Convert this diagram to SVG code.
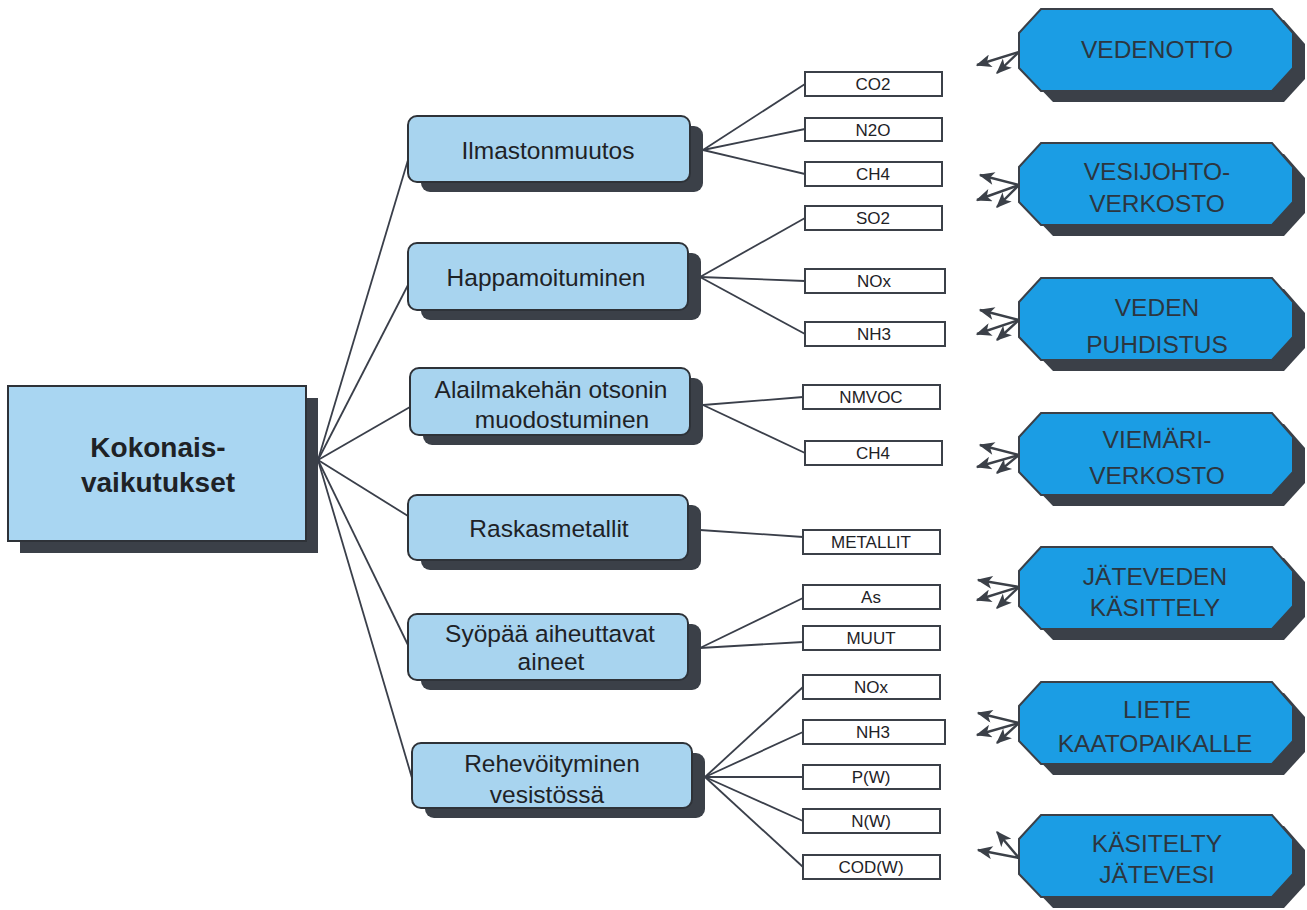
<svg xmlns="http://www.w3.org/2000/svg" width="1307" height="910" viewBox="0 0 1307 910">
<defs>
<style>
.bg{fill:#ffffff}
.shadow{fill:#3b4048}
.main{fill:#a9d6f2;stroke:#2e3238;stroke-width:2}
.cat{fill:#a8d4ef;stroke:#2e3238;stroke-width:2}
.oct{fill:#1b9de4;stroke:#3b4048;stroke-width:2}
.leaf{fill:#ffffff;stroke:#3b4048;stroke-width:2}
.t-main{font-family:"Liberation Sans",Arial,sans-serif;font-weight:bold;font-size:28px;fill:#1e2226;text-anchor:middle}
.t-cat{font-family:"Liberation Sans",Arial,sans-serif;font-size:24.5px;fill:#1e2226;text-anchor:middle}
.t-leaf{font-family:"Liberation Sans",Arial,sans-serif;font-size:17px;fill:#1e2226;text-anchor:middle}
.t-oct{font-family:"Liberation Sans",Arial,sans-serif;font-size:24.5px;fill:#2c3640;text-anchor:middle}
.conn line{stroke:#3a3f4a;stroke-width:1.8;fill:none}
.arr line{stroke:#3b4048;stroke-width:2.4;fill:none;marker-end:url(#ah)}
</style>
<marker id="ah" viewBox="0 0 12 10" refX="11" refY="5" markerWidth="17" markerHeight="13" markerUnits="userSpaceOnUse" orient="auto">
<path d="M0,0 L12,5 L0,10 L3,5 z" fill="#3b4048"/>
</marker>
</defs>
<rect class="bg" x="0" y="0" width="1307" height="910"/>

<g id="connectors" class="conn">
<line x1="318" y1="460" x2="408" y2="160"/>
<line x1="318" y1="460" x2="408" y2="285"/>
<line x1="318" y1="460" x2="410" y2="407"/>
<line x1="318" y1="460" x2="408" y2="516"/>
<line x1="318" y1="460" x2="408" y2="645"/>
<line x1="318" y1="460" x2="412" y2="778"/>

<line x1="703" y1="150" x2="805" y2="84"/>
<line x1="703" y1="150" x2="805" y2="129"/>
<line x1="703" y1="150" x2="805" y2="174"/>

<line x1="700" y1="277" x2="805" y2="218"/>
<line x1="700" y1="277" x2="805" y2="281"/>
<line x1="700" y1="277" x2="805" y2="334"/>

<line x1="703" y1="405" x2="803" y2="397"/>
<line x1="703" y1="405" x2="805" y2="453"/>

<line x1="700" y1="530" x2="803" y2="537"/>

<line x1="700" y1="648" x2="803" y2="598"/>
<line x1="700" y1="648" x2="803" y2="642"/>

<line x1="705" y1="777" x2="803" y2="687"/>
<line x1="705" y1="777" x2="803" y2="732"/>
<line x1="705" y1="777" x2="803" y2="777"/>
<line x1="705" y1="777" x2="803" y2="821"/>
<line x1="705" y1="777" x2="803" y2="867"/>
</g>

<g id="arrows" class="arr">
<line x1="1019" y1="52" x2="977" y2="65"/>
<line x1="1019" y1="52" x2="997" y2="73"/>

<line x1="1019" y1="185" x2="980" y2="175"/>
<line x1="1019" y1="185" x2="977" y2="200"/>
<line x1="1019" y1="185" x2="997" y2="207"/>

<line x1="1019" y1="320" x2="980" y2="310"/>
<line x1="1019" y1="320" x2="977" y2="334"/>
<line x1="1019" y1="320" x2="997" y2="340"/>

<line x1="1019" y1="455" x2="980" y2="445"/>
<line x1="1019" y1="455" x2="977" y2="467"/>
<line x1="1019" y1="455" x2="997" y2="473"/>

<line x1="1019" y1="587" x2="978" y2="580"/>
<line x1="1019" y1="587" x2="977" y2="600"/>
<line x1="1019" y1="587" x2="997" y2="608"/>

<line x1="1019" y1="723" x2="978" y2="713"/>
<line x1="1019" y1="723" x2="977" y2="735"/>
<line x1="1019" y1="723" x2="997" y2="743"/>

<line x1="1019" y1="858" x2="978" y2="850"/>
<line x1="1019" y1="858" x2="997" y2="832"/>
</g>

<g id="node-kokonais">
<rect class="shadow" x="20" y="398" width="298" height="155"/>
<rect class="main" x="8" y="386" width="298" height="155"/>
<text class="t-main" x="158" y="457">Kokonais-</text>
<text class="t-main" x="158" y="492">vaikutukset</text>
</g>

<g id="node-ilmasto">
<rect class="shadow" x="421" y="126" width="282" height="66" rx="9"/>
<rect class="cat" x="408" y="116" width="282" height="66" rx="9"/>
<text class="t-cat" x="548" y="159">Ilmastonmuutos</text>
</g>
<g id="node-happamo">
<rect class="shadow" x="421" y="253" width="280" height="67" rx="9"/>
<rect class="cat" x="408" y="243" width="280" height="67" rx="9"/>
<text class="t-cat" x="546" y="286">Happamoituminen</text>
</g>
<g id="node-otsoni">
<rect class="shadow" x="423" y="378" width="280" height="67" rx="9"/>
<rect class="cat" x="410" y="368" width="280" height="67" rx="9"/>
<text class="t-cat" x="551" y="398">Alailmakehän otsonin</text>
<text class="t-cat" x="562" y="428">muodostuminen</text>
</g>
<g id="node-raskas">
<rect class="shadow" x="421" y="505" width="280" height="65" rx="9"/>
<rect class="cat" x="408" y="495" width="280" height="65" rx="9"/>
<text class="t-cat" x="549" y="537">Raskasmetallit</text>
</g>
<g id="node-syopa">
<rect class="shadow" x="421" y="624" width="280" height="66" rx="9"/>
<rect class="cat" x="408" y="614" width="280" height="66" rx="9"/>
<text class="t-cat" x="550" y="642">Syöpää aiheuttavat</text>
<text class="t-cat" x="551" y="670">aineet</text>
</g>
<g id="node-rehev">
<rect class="shadow" x="425" y="753" width="280" height="65" rx="9"/>
<rect class="cat" x="412" y="743" width="280" height="65" rx="9"/>
<text class="t-cat" x="552" y="772">Rehevöityminen</text>
<text class="t-cat" x="547" y="803">vesistössä</text>
</g>

<g id="leaf-co2"><rect class="leaf" x="805" y="72" width="137" height="24"/><text class="t-leaf" x="873" y="90">CO2</text></g>
<g id="leaf-n2o"><rect class="leaf" x="805" y="118" width="137" height="23"/><text class="t-leaf" x="873" y="136">N2O</text></g>
<g id="leaf-ch4a"><rect class="leaf" x="805" y="162" width="137" height="24"/><text class="t-leaf" x="873" y="180">CH4</text></g>
<g id="leaf-so2"><rect class="leaf" x="805" y="206" width="137" height="24"/><text class="t-leaf" x="873" y="224">SO2</text></g>
<g id="leaf-noxa"><rect class="leaf" x="805" y="269" width="140" height="24"/><text class="t-leaf" x="874" y="287">NOx</text></g>
<g id="leaf-nh3a"><rect class="leaf" x="805" y="322" width="140" height="24"/><text class="t-leaf" x="874" y="340">NH3</text></g>
<g id="leaf-nmvoc"><rect class="leaf" x="803" y="385" width="137" height="24"/><text class="t-leaf" x="871" y="403">NMVOC</text></g>
<g id="leaf-ch4b"><rect class="leaf" x="805" y="441" width="137" height="24"/><text class="t-leaf" x="873" y="459">CH4</text></g>
<g id="leaf-metallit"><rect class="leaf" x="803" y="530" width="137" height="24"/><text class="t-leaf" x="871" y="548">METALLIT</text></g>
<g id="leaf-as"><rect class="leaf" x="803" y="585" width="137" height="24"/><text class="t-leaf" x="871" y="603">As</text></g>
<g id="leaf-muut"><rect class="leaf" x="803" y="626" width="137" height="24"/><text class="t-leaf" x="871" y="644">MUUT</text></g>
<g id="leaf-noxb"><rect class="leaf" x="803" y="675" width="137" height="24"/><text class="t-leaf" x="871" y="693">NOx</text></g>
<g id="leaf-nh3b"><rect class="leaf" x="803" y="720" width="142" height="24"/><text class="t-leaf" x="873" y="738">NH3</text></g>
<g id="leaf-pw"><rect class="leaf" x="803" y="765" width="137" height="24"/><text class="t-leaf" x="871" y="783">P(W)</text></g>
<g id="leaf-nw"><rect class="leaf" x="803" y="809" width="137" height="24"/><text class="t-leaf" x="871" y="827">N(W)</text></g>
<g id="leaf-codw"><rect class="leaf" x="803" y="855" width="137" height="24"/><text class="t-leaf" x="871" y="873">COD(W)</text></g>

<g id="node-vedenotto">
<polygon class="shadow" points="1053,20 1284,20 1305,44 1305,79 1284,102 1053,102 1031,79 1031,44"/>
<polygon class="oct" points="1041,9 1272,9 1293,33 1293,68 1272,91 1041,91 1019,68 1019,33"/>
<text class="t-oct" x="1157" y="58">VEDENOTTO</text>
</g>
<g id="node-vesijohto">
<polygon class="shadow" points="1053,154 1284,154 1305,178 1305,213 1284,236 1053,236 1031,213 1031,178"/>
<polygon class="oct" points="1041,143 1272,143 1293,167 1293,202 1272,225 1041,225 1019,202 1019,167"/>
<text class="t-oct" x="1157" y="180">VESIJOHTO-</text>
<text class="t-oct" x="1157" y="212">VERKOSTO</text>
</g>
<g id="node-puhdistus">
<polygon class="shadow" points="1053,289 1284,289 1305,313 1305,348 1284,371 1053,371 1031,348 1031,313"/>
<polygon class="oct" points="1041,278 1272,278 1293,302 1293,337 1272,360 1041,360 1019,337 1019,302"/>
<text class="t-oct" x="1157" y="316">VEDEN</text>
<text class="t-oct" x="1157" y="353">PUHDISTUS</text>
</g>
<g id="node-viemari">
<polygon class="shadow" points="1053,424 1284,424 1305,448 1305,483 1284,506 1053,506 1031,483 1031,448"/>
<polygon class="oct" points="1041,413 1272,413 1293,437 1293,472 1272,495 1041,495 1019,472 1019,437"/>
<text class="t-oct" x="1157" y="448">VIEMÄRI-</text>
<text class="t-oct" x="1157" y="484">VERKOSTO</text>
</g>
<g id="node-jatevesi-kas">
<polygon class="shadow" points="1053,558 1284,558 1305,582 1305,617 1284,640 1053,640 1031,617 1031,582"/>
<polygon class="oct" points="1041,547 1272,547 1293,571 1293,606 1272,629 1041,629 1019,606 1019,571"/>
<text class="t-oct" x="1155" y="585">JÄTEVEDEN</text>
<text class="t-oct" x="1155" y="616">KÄSITTELY</text>
</g>
<g id="node-liete">
<polygon class="shadow" points="1053,693 1284,693 1305,717 1305,752 1284,775 1053,775 1031,752 1031,717"/>
<polygon class="oct" points="1041,682 1272,682 1293,706 1293,741 1272,764 1041,764 1019,741 1019,706"/>
<text class="t-oct" x="1157" y="718">LIETE</text>
<text class="t-oct" x="1155" y="752">KAATOPAIKALLE</text>
</g>
<g id="node-kasitelty">
<polygon class="shadow" points="1053,826 1284,826 1305,850 1305,885 1284,908 1053,908 1031,885 1031,850"/>
<polygon class="oct" points="1041,815 1272,815 1293,839 1293,874 1272,897 1041,897 1019,874 1019,839"/>
<text class="t-oct" x="1157" y="852">KÄSITELTY</text>
<text class="t-oct" x="1157" y="883">JÄTEVESI</text>
</g>
</svg>
